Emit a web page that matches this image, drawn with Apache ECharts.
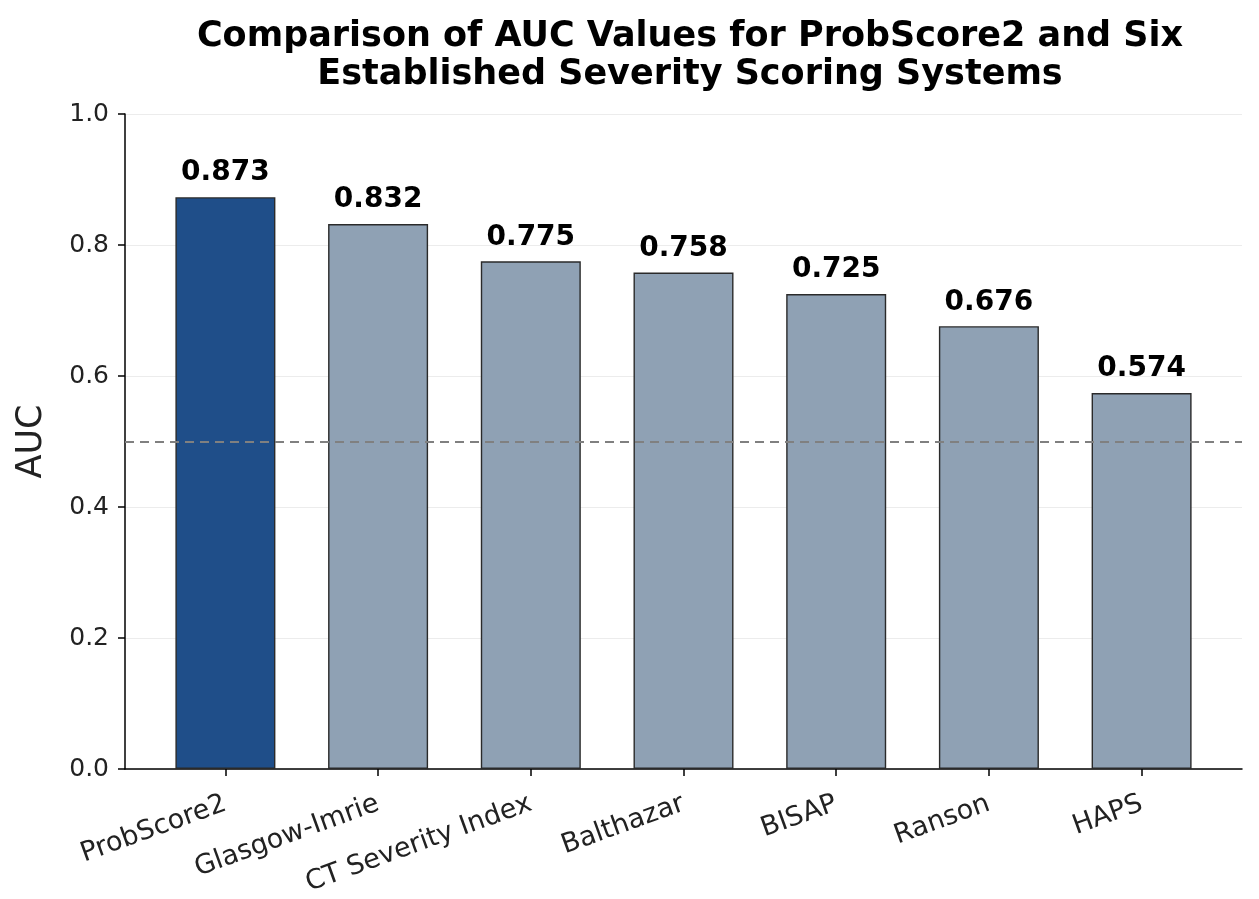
<!DOCTYPE html>
<html>
<head>
<meta charset="utf-8">
<script src="https://cdn.jsdelivr.net/npm/echarts@6/dist/echarts.min.js"></script>
<style>
  html, body { margin: 0; padding: 0; background: #fff; }
  #chart { width: 1259px; height: 899px; }
</style>
</head>
<body>
<div id="chart"></div>
<script>
const categories = ['ProbScore2', 'Glasgow-Imrie', 'CT Severity Index', 'Balthazar', 'BISAP', 'Ranson', 'HAPS']
const aucValues = [0.873, 0.832, 0.775, 0.758, 0.725, 0.676, 0.574]
const yTicks = [0, 0.2, 0.4, 0.6, 0.8, 1.0]
const referenceLine = 0.5

const fontFamily = '"DejaVu Sans", sans-serif'
const positions = categories.map((c, i) => i)

const myEcharts = echarts.init(document.getElementById('chart'))
myEcharts.setOption({
  animation: false,
  title: {
    text: 'Comparison of AUC Values for ProbScore2 and Six\nEstablished Severity Scoring Systems',
    left: 685,
    top: 13,
    textAlign: 'center',
    textStyle: { fontFamily, fontWeight: 'bold', fontSize: 35, lineHeight: 38, color: '#000' },
  },
  grid: { left: 125, right: 17, top: 114, bottom: 130, outerBoundsMode: 'none', containLabel: false },
  xAxis: {
    type: 'value',
    min: -0.6575,
    max: 6.6575,
    splitLine: { show: false },
    axisLine: { show: true, onZero: false, lineStyle: { color: '#000', width: 1.5 } },
    axisTick: { show: true, customValues: positions, length: 7, lineStyle: { color: '#000', width: 1.5 } },
    axisLabel: {
      customValues: positions,
      rotate: 20,
      margin: 34,
      fontFamily,
      fontSize: 27,
      color: '#222',
      formatter: v => categories[Math.round(v)],
    },
  },
  yAxis: {
    type: 'value',
    min: 0,
    max: 1,
    interval: 0.2,
    name: 'AUC',
    nameLocation: 'middle',
    nameRotate: 90,
    nameGap: 76,
    nameTextStyle: { fontFamily, fontSize: 35, color: '#222' },
    axisLine: { show: true, onZero: false, lineStyle: { color: '#000', width: 1.5 } },
    axisTick: { show: true, length: 7, lineStyle: { color: '#000', width: 1.5 } },
    axisLabel: {
      customValues: yTicks,
      fontFamily, fontSize: 25, color: '#222', margin: 16,
      formatter: v => v.toFixed(1),
    },
    splitLine: { show: true, lineStyle: { color: '#ececec', width: 1.2 } },
  },
  series: [{
    type: 'bar',
    barWidth: 100,
    data: aucValues.map((v, i) => ({
      value: [positions[i], v],
      itemStyle: { color: i === 0 ? '#1f4e89' : '#8fa1b4' },
    })),
    itemStyle: { borderColor: '#2a2a2a', borderWidth: 1.4 },
    label: {
      show: true,
      position: 'top',
      distance: 10,
      fontFamily,
      fontWeight: 'bold',
      fontSize: 28,
      color: '#000',
      formatter: p => p.value[1].toFixed(3),
    },
    markLine: {
      silent: true,
      symbol: 'none',
      label: { show: false },
      lineStyle: { color: '#808080', type: [9, 6], width: 2 },
      data: [{ yAxis: referenceLine }],
    },
  }],
})
</script>
</body>
</html>
